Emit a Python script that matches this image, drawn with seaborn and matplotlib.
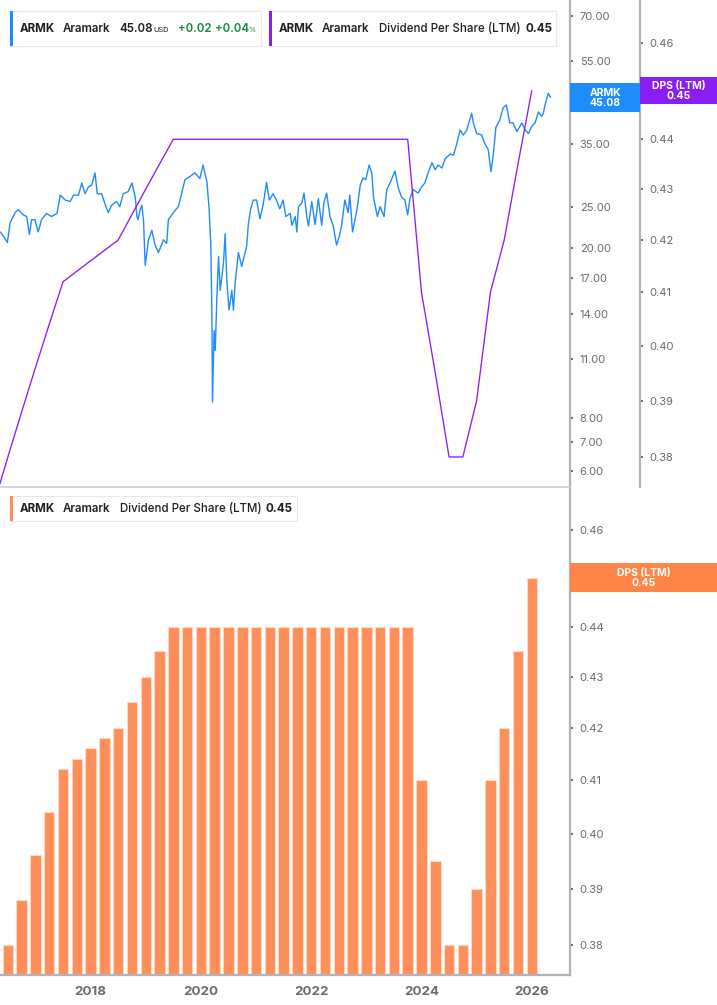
import numpy as np
import pandas as pd
import matplotlib.pyplot as plt
import seaborn as sns
from matplotlib.patches import Rectangle
from matplotlib.transforms import IdentityTransform
from matplotlib.ticker import NullLocator

sns.set_style("white")
plt.rcParams['font.family'] = ['Inter', 'DejaVu Sans']

# ARMK share price (decimal year, USD)
price_dates = [2016.36, 2016.42, 2016.49, 2016.54, 2016.63, 2016.69, 2016.78, 2016.84, 2016.89, 2016.93,
               2016.99, 2017.05, 2017.11, 2017.20, 2017.29, 2017.39, 2017.45, 2017.54, 2017.63, 2017.69,
               2017.78, 2017.84, 2017.90, 2017.96, 2018.02, 2018.08, 2018.12, 2018.20, 2018.26, 2018.32,
               2018.38, 2018.47, 2018.53, 2018.59, 2018.68, 2018.75, 2018.81, 2018.84, 2018.86, 2018.90,
               2018.93, 2018.96, 2018.99, 2019.05, 2019.11, 2019.17, 2019.23, 2019.32, 2019.38, 2019.41,
               2019.50, 2019.59, 2019.65, 2019.71, 2019.80, 2019.89, 2019.95, 2019.98, 2020.04, 2020.11,
               2020.15, 2020.18, 2020.20, 2020.21, 2020.24, 2020.26, 2020.29, 2020.32, 2020.35, 2020.38,
               2020.41, 2020.44, 2020.47, 2020.51, 2020.56, 2020.59, 2020.62, 2020.68, 2020.74, 2020.80,
               2020.83, 2020.86, 2020.90, 2020.95, 2021.01, 2021.07, 2021.13, 2021.19, 2021.24, 2021.31,
               2021.37, 2021.43, 2021.49, 2021.54, 2021.62, 2021.65, 2021.71, 2021.74, 2021.77, 2021.83,
               2021.87, 2021.92, 2021.95, 2022.01, 2022.07, 2022.13, 2022.19, 2022.23, 2022.28, 2022.34,
               2022.40, 2022.46, 2022.51, 2022.55, 2022.61, 2022.67, 2022.70, 2022.75, 2022.83, 2022.89,
               2022.94, 2022.99, 2023.05, 2023.10, 2023.13, 2023.20, 2023.25, 2023.32, 2023.37, 2023.43,
               2023.52, 2023.58, 2023.64, 2023.70, 2023.75, 2023.79, 2023.85, 2023.94, 2024.00, 2024.06,
               2024.12, 2024.19, 2024.25, 2024.30, 2024.37, 2024.43, 2024.52, 2024.58, 2024.64, 2024.70,
               2024.76, 2024.82, 2024.91, 2024.94, 2025.00, 2025.09, 2025.15, 2025.21, 2025.26, 2025.30,
               2025.35, 2025.42, 2025.48, 2025.54, 2025.60, 2025.66, 2025.73, 2025.82, 2025.88, 2025.94,
               2026.00, 2026.06, 2026.12, 2026.18, 2026.21, 2026.24, 2026.30, 2026.34]
price_vals = [21.8, 21.3, 20.6, 22.9, 24.2, 24.6, 23.9, 23.7, 21.5, 23.3,
              23.3, 21.8, 23.3, 24.1, 23.7, 24.1, 26.6, 25.9, 25.7, 26.6,
              26.6, 28.4, 26.8, 27.8, 28.1, 30.0, 26.8, 26.8, 25.4, 24.2,
              25.2, 25.7, 25.0, 26.8, 27.1, 28.4, 26.3, 23.7, 23.3, 24.6,
              25.2, 23.1, 18.2, 20.9, 22.0, 20.3, 19.5, 20.9, 20.5, 23.3,
              24.2, 25.0, 26.8, 28.9, 29.4, 30.0, 29.4, 29.1, 31.3, 28.5,
              24.6, 20.3, 13.8, 8.7, 12.8, 11.5, 15.4, 19.1, 15.9, 17.1,
              18.5, 21.6, 16.8, 14.3, 15.9, 14.3, 16.5, 19.5, 18.1, 19.5,
              20.2, 22.7, 24.6, 25.9, 25.9, 23.4, 25.3, 28.5, 25.9, 26.8,
              25.9, 24.7, 25.9, 23.7, 24.1, 22.6, 23.7, 21.8, 25.0, 25.5,
              26.9, 23.7, 22.5, 25.7, 22.7, 26.1, 22.6, 25.5, 26.9, 23.7,
              22.5, 20.3, 21.3, 22.5, 25.9, 24.2, 26.6, 21.8, 24.6, 28.1,
              29.2, 28.9, 31.3, 29.9, 26.3, 23.7, 25.0, 23.7, 27.4, 28.4,
              30.3, 27.6, 26.3, 25.9, 23.9, 26.1, 27.4, 26.9, 27.8, 28.4,
              30.0, 31.7, 30.5, 31.3, 30.8, 32.4, 33.2, 33.0, 35.1, 37.8,
              36.8, 37.8, 41.4, 39.3, 37.1, 36.8, 35.1, 34.0, 30.2, 32.9,
              38.4, 39.9, 42.6, 43.3, 39.3, 39.3, 37.5, 39.3, 37.8, 37.1,
              38.6, 39.3, 41.7, 40.7, 41.4, 43.3, 46.1, 45.08]

# Dividend per share, last twelve months, one value per quarter
dps_dates = [2016.25, 2016.50, 2016.75, 2017.00, 2017.25, 2017.50, 2017.75, 2018.00, 2018.25, 2018.50,
             2018.75, 2019.00, 2019.25, 2019.50, 2019.75, 2020.00, 2020.25, 2020.50, 2020.75, 2021.00,
             2021.25, 2021.50, 2021.75, 2022.00, 2022.25, 2022.50, 2022.75, 2023.00, 2023.25, 2023.50,
             2023.75, 2024.00, 2024.25, 2024.50, 2024.75, 2025.00, 2025.25, 2025.50, 2025.75, 2026.00]
dps_vals = [0.372, 0.380, 0.388, 0.396, 0.404, 0.412, 0.414, 0.416, 0.418, 0.420,
            0.425, 0.430, 0.435, 0.44, 0.44, 0.44, 0.44, 0.44, 0.44, 0.44,
            0.44, 0.44, 0.44, 0.44, 0.44, 0.44, 0.44, 0.44, 0.44, 0.44,
            0.44, 0.410, 0.395, 0.380, 0.380, 0.390, 0.410, 0.420, 0.435, 0.45]

year_ticks = [2018, 2020, 2022, 2024, 2026]
price_ticks = [6, 7, 8, 11, 14, 17, 20, 25, 35, 45, 55, 70]
dps_ticks = [0.38, 0.39, 0.40, 0.41, 0.42, 0.43, 0.44, 0.45, 0.46]

BLUE = '#1E8CFA'
PURPLE = '#8A1EF2'
ORANGE = '#FF8F5A'
TAG_ORANGE = '#FF8448'
GREEN = '#128A3E'
SPINE = '#b3b3b3'
TICKC = '#6b6b6b'

W, H = 717, 1005
fig = plt.figure(figsize=(W / 100, H / 100), dpi=100)
xlim = (2016.357, 2026.693)
PT = 72 / 100  # points per pixel

# ---- top panel: price (log) + DPS line (log) ----
ax1 = fig.add_axes([0, (H - 487) / H, 570 / W, 487 / H])
sns.lineplot(x=price_dates, y=price_vals, ax=ax1, color=BLUE, lw=1.0, estimator=None)
ax1.set_xlabel('')
ax1.set_ylabel('')

ax1b = ax1.twinx()
sns.lineplot(x=dps_dates, y=dps_vals, ax=ax1b, color=PURPLE, lw=0.95, estimator=None)
ax1b.set_ylabel('')

ax1.set_yscale('log')
ax1.set_ylim(5.5, 76.3)
ax1.yaxis.tick_right()
ax1.set_yticks(price_ticks)
ax1.set_yticklabels([f'{t:.2f}' for t in price_ticks])
ax1.yaxis.set_minor_locator(NullLocator())
ax1.set_xticks([])

ax1b.set_yscale('log')
ax1b.set_ylim(0.37477, 0.4692)
ax1b.set_yticks(dps_ticks)
ax1b.set_yticklabels([f'{t:.2f}' for t in dps_ticks])
ax1b.yaxis.set_minor_locator(NullLocator())
ax1b.spines['right'].set_position(('outward', 70 * PT))
ax1.set_xlim(*xlim)
ax1b.set_xlim(*xlim)

for a in (ax1, ax1b):
    for s in ('top', 'left'):
        a.spines[s].set_visible(False)
    a.spines['right'].set_color(SPINE)
    a.spines['right'].set_linewidth(1.6)
    a.tick_params(axis='y', which='major', length=2.5, width=1.2, color='#555555',
                  labelsize=8, labelcolor=TICKC, pad=4.5)
ax1.spines['bottom'].set_color('#d0d0d0')
ax1.spines['bottom'].set_linewidth(1.2)
ax1b.spines['bottom'].set_visible(False)

# ---- bottom panel: DPS bars on a log axis ----
ax2 = fig.add_axes([0, (H - 975) / H, 570 / W, (975 - 489) / H])
sns.barplot(x=dps_dates, y=dps_vals, ax=ax2, native_scale=True, color=ORANGE,
            width=0.76, errorbar=None, edgecolor='#ffd9c6', linewidth=0.8, saturation=1)
ax2.set_yscale('log')
ax2.set_ylim(0.37479, 0.46877)
ax2.set_xlim(*xlim)
ax2.yaxis.tick_right()
ax2.set_yticks(dps_ticks)
ax2.set_yticklabels([f'{t:.2f}' for t in dps_ticks])
ax2.yaxis.set_minor_locator(NullLocator())
ax2.set_xticks(year_ticks)
ax2.set_xticklabels([str(y) for y in year_ticks], fontweight='bold')
ax2.set_xlabel('')
ax2.set_ylabel('')
for s in ('top', 'left'):
    ax2.spines[s].set_visible(False)
for s in ('right', 'bottom'):
    ax2.spines[s].set_color(SPINE)
    ax2.spines[s].set_linewidth(1.6)
ax2.tick_params(axis='y', length=2.5, width=1.2, color='#555555', labelsize=8,
                labelcolor=TICKC, pad=4.5)
ax2.tick_params(axis='x', length=4, width=1.2, color='#777777', labelsize=9.6,
                labelcolor=TICKC, pad=4)


def px_rect(x0, y0, x1, y1, **kw):
    fig.add_artist(Rectangle((x0, H - y1), x1 - x0, y1 - y0,
                             transform=IdentityTransform(), **kw))


def px_text(x, y, s, **kw):
    fig.text(x, H - y, s, transform=IdentityTransform(), **kw)


def value_tag(ax, value, x0, x1, h, color, text):
    yc = H - ax.transData.transform((xlim[0], value))[1]
    px_rect(x0, yc - h / 2, x1, yc + h / 2, facecolor=color, edgecolor='none', zorder=5)
    px_text((x0 + x1) / 2, yc + 0.5, text, ha='center', va='center', color='white',
            fontsize=7.5, fontweight='bold', linespacing=1.0, zorder=6)


value_tag(ax1, price_vals[-1], 570, 640, 29, BLUE, f'ARMK\n{price_vals[-1]:.2f}')
value_tag(ax1b, dps_vals[-1], 640, 717, 27, PURPLE, f'DPS (LTM)\n{dps_vals[-1]:.2f}')
value_tag(ax2, dps_vals[-1], 570, 717, 29, TAG_ORANGE, f'DPS (LTM)\n{dps_vals[-1]:.2f}')


def legend_box(x0, x1, y0, y1, strip):
    px_rect(x0, y0, x1, y1, facecolor='white', edgecolor='#e8e8e8', lw=0.8, zorder=5)
    px_rect(x0, y0, x0 + 3, y1, facecolor=strip, edgecolor='none', zorder=6)


FS = 8.3
TXT = dict(va='center', fontsize=FS, color='#1f1f1f', zorder=7)

legend_box(10, 261, 11, 46, BLUE)
px_text(20, 28.5, 'ARMK', fontweight='bold', **TXT)
px_text(63, 28.5, 'Aramark', fontweight='semibold', **TXT)
px_text(119, 28.5, f'{price_vals[-1]:.2f}', fontweight='semibold', **TXT)
px_text(153, 30, 'USD', va='center', fontsize=5.3, color='#1f1f1f', zorder=7)
px_text(178, 28.5, '+0.02', va='center', fontsize=FS, color=GREEN, fontweight='semibold', zorder=7)
px_text(215, 28.5, '+0.04', va='center', fontsize=FS, color=GREEN, fontweight='semibold', zorder=7)
px_text(248, 30, '%', va='center', fontsize=5.3, color=GREEN, zorder=7)

legend_box(269, 556, 11, 46, PURPLE)
px_text(279, 28.5, 'ARMK', fontweight='bold', **TXT)
px_text(322, 28.5, 'Aramark', fontweight='semibold', **TXT)
px_text(379, 28.5, 'Dividend Per Share (LTM)', fontweight='medium', **TXT)
px_text(526, 28.5, f'{dps_vals[-1]:.2f}', fontweight='bold', **TXT)

legend_box(10, 297, 496, 521, ORANGE)
px_text(20, 508.5, 'ARMK', fontweight='bold', **TXT)
px_text(63, 508.5, 'Aramark', fontweight='semibold', **TXT)
px_text(120, 508.5, 'Dividend Per Share (LTM)', fontweight='medium', **TXT)
px_text(266, 508.5, f'{dps_vals[-1]:.2f}', fontweight='bold', **TXT)

fig.savefig('out.png', dpi=100, facecolor='white')
